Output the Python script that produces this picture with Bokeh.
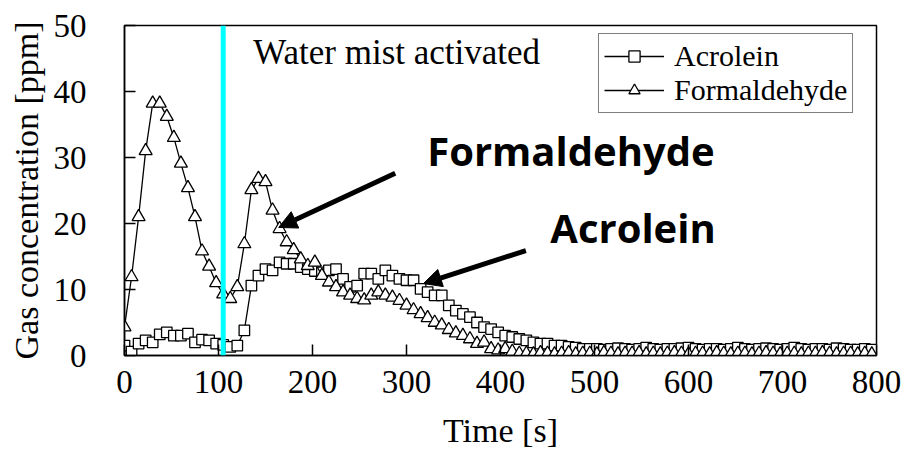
from bokeh.plotting import figure
from bokeh.models import Range1d, Span, Label, Arrow, NormalHead, Legend, LegendItem, FixedTicker
from bokeh.embed import file_html
from bokeh.resources import INLINE

time_s = [
    0, 7.5, 15, 22.5, 30, 37.5, 45, 52.5, 60, 67.5,
    75, 82.5, 90, 97.5, 105, 112.5, 120, 127.5, 135, 142.5,
    150, 157.5, 165, 172.5, 180, 187.5, 195, 202.5, 210, 217.5,
    225, 232.5, 240, 247.5, 255, 262.5, 270, 277.5, 285, 292.5,
    300, 307.5, 315, 322.5, 330, 337.5, 345, 352.5, 360, 367.5,
    375, 382.5, 390, 397.5, 405, 412.5, 420, 427.5, 435, 442.5,
    450, 457.5, 465, 472.5, 480, 487.5, 495, 502.5, 510, 517.5,
    525, 532.5, 540, 547.5, 555, 562.5, 570, 577.5, 585, 592.5,
    600, 607.5, 615, 622.5, 630, 637.5, 645, 652.5, 660, 667.5,
    675, 682.5, 690, 697.5, 705, 712.5, 720, 727.5, 735, 742.5,
    750, 757.5, 765, 772.5, 780, 787.5, 795,
]

acrolein = [
    1.5, 0.6, 1.8, 2.3, 2.0, 3.2, 3.5, 3.0, 3.0, 3.3,
    2.0, 2.4, 2.3, 1.8, 1.6, 1.3, 1.5, 3.8, 10.6, 12.1,
    13.1, 12.9, 14.1, 13.9, 13.9, 13.4, 13.1, 12.8, 12.6, 12.9,
    13.1, 11.6, 10.4, 10.6, 12.4, 12.4, 11.6, 12.9, 12.1, 11.6,
    11.4, 11.4, 10.1, 9.6, 9.1, 9.1, 7.6, 6.8, 6.3, 5.8,
    5.0, 4.3, 4.0, 3.5, 3.0, 2.8, 2.5, 2.3, 2.0, 1.8,
    1.8, 1.5, 1.5, 1.3, 1.2, 1.0, 1.0, 1.0, 0.9, 1.0,
    1.1, 1.0, 0.9, 1.0, 1.2, 1.0, 0.9, 1.0, 1.0, 1.1,
    1.2, 1.0, 0.9, 1.0, 1.0, 0.9, 1.0, 1.2, 1.0, 0.9,
    1.0, 1.1, 1.0, 0.9, 1.0, 1.2, 1.0, 0.9, 1.0, 1.0,
    0.9, 1.1, 1.0, 0.9, 0.9, 1.0, 0.9,
]

formaldehyde = [
    4.3, 11.9, 21.0, 31.0, 38.2, 38.2, 36.2, 33.0, 29.1, 25.4,
    21.0, 15.8, 13.5, 11.0, 9.3, 8.6, 10.4, 16.9, 25.1, 26.8,
    26.3, 22.0, 19.2, 17.2, 16.0, 14.6, 13.6, 14.1, 12.1, 11.1,
    10.4, 9.6, 9.1, 8.6, 8.4, 9.1, 9.6, 9.1, 8.8, 8.3,
    7.6, 6.9, 6.3, 5.7, 5.0, 4.6, 3.9, 3.4, 3.0, 2.5,
    1.8, 2.0, 1.0, 0.8, 1.0, 0.6, 0.3, 0.3, 0.2, 0.4,
    0.3, 0.2, 0.3, 0.4, 0.2, 0.3, 0.3, 0.2, 0.4, 0.3,
    0.2, 0.3, 0.3, 0.4, 0.2, 0.3, 0.2, 0.3, 0.4, 0.3,
    0.2, 0.3, 0.3, 0.2, 0.4, 0.3, 0.2, 0.3, 0.3, 0.2,
    0.3, 0.4, 0.3, 0.2, 0.3, 0.3, 0.2, 0.3, 0.3, 0.4,
    0.3, 0.2, 0.3, 0.3, 0.2, 0.3, 0.2,
]

x_ticks = [0, 100, 200, 300, 400, 500, 600, 700, 800]
y_ticks = [0, 10, 20, 30, 40, 50]
mist_time = 105

SERIF = "Times New Roman"

p = figure(width=905, height=465, output_backend="svg", toolbar_location=None,
           x_range=Range1d(0, 800), y_range=Range1d(0, 50),
           min_border_left=124, min_border_right=29, min_border_top=25, min_border_bottom=110)
p.background_fill_color = "white"
p.border_fill_color = "white"
p.outline_line_color = "black"
p.outline_line_width = 1.5
p.grid.visible = False

for ax in (p.xaxis[0], p.yaxis[0]):
    ax.axis_line_width = 1.5
    ax.axis_line_color = "black"
    ax.major_tick_in = 11
    ax.major_tick_out = 0
    ax.major_tick_line_width = 1.5
    ax.minor_tick_in = 0
    ax.minor_tick_out = 0
    ax.major_label_text_font = SERIF
    ax.major_label_text_font_size = "33px"
    ax.major_label_text_color = "black"
    ax.axis_label_text_font = SERIF
    ax.axis_label_text_font_size = "34px"
    ax.axis_label_text_font_style = "normal"
    ax.axis_label_text_color = "black"

p.xaxis.ticker = FixedTicker(ticks=x_ticks)
p.yaxis.ticker = FixedTicker(ticks=y_ticks)
p.xaxis.axis_label = "Time [s]"
p.yaxis.axis_label = "Gas concentration [ppm]"
p.xaxis.major_label_standoff = 15
p.xaxis.axis_label_standoff = 16
p.yaxis.major_label_standoff = 38
p.yaxis.axis_label_standoff = 6

la = p.line(time_s, acrolein, line_color="black", line_width=1.3)
sa = p.scatter(time_s, acrolein, marker="square", size=10.5, fill_color="white",
               line_color="black", line_width=1.3)
lf = p.line(time_s, formaldehyde, line_color="black", line_width=1.3)
sf = p.scatter(time_s, formaldehyde, marker="triangle", size=13, fill_color="white",
               line_color="black", line_width=1.3)

p.add_layout(Span(location=mist_time, dimension="height", line_color="#00FFFF", line_width=5))

legend = Legend(items=[LegendItem(label="Acrolein", renderers=[la, sa]),
                       LegendItem(label="Formaldehyde", renderers=[lf, sf])],
                location=(474, 242), label_text_font=SERIF, label_text_font_size="30px",
                label_text_color="black",
                glyph_width=60, glyph_height=28, label_standoff=10, padding=5, spacing=0,
                margin=0, border_line_color="black", border_line_width=1,
                background_fill_color="white", background_fill_alpha=1.0)
p.add_layout(legend)

p.add_layout(Label(x=137, y=45.9, text="Water mist activated", text_font=SERIF,
                   text_font_size="35px", text_color="black", text_baseline="alphabetic"))
p.add_layout(Label(x=322, y=31.0, text="Formaldehyde", text_font="Open Sans",
                   text_font_style="bold", text_font_size="40px", text_color="black",
                   text_baseline="alphabetic"))
p.add_layout(Label(x=453, y=19.4, text="Acrolein", text_font="Open Sans",
                   text_font_style="bold", text_font_size="40px", text_color="black",
                   text_baseline="alphabetic"))

p.add_layout(Arrow(end=NormalHead(size=18, fill_color="black", line_color="black"),
                   x_start=288, y_start=27.6, x_end=164, y_end=19.4,
                   line_width=5, line_color="black"))
p.add_layout(Arrow(end=NormalHead(size=18, fill_color="black", line_color="black"),
                   x_start=427, y_start=15.9, x_end=318, y_end=10.9,
                   line_width=5, line_color="black"))

open("out.html", "w").write(file_html(p, INLINE))
